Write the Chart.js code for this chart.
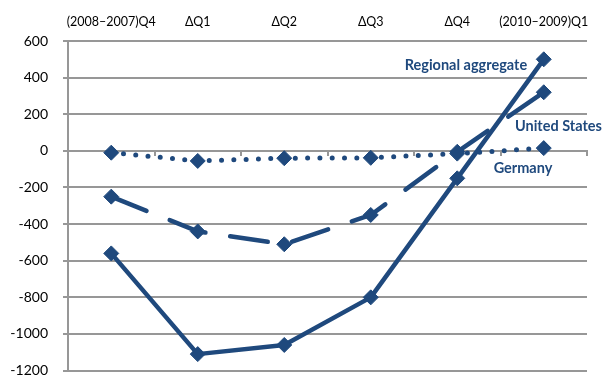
<!DOCTYPE html>
<html>
<head>
<meta charset="utf-8">
<script src="https://cdn.jsdelivr.net/npm/chart.js@4/dist/chart.umd.min.js"></script>
<style>
  html, body { margin: 0; padding: 0; background: #fff; }
  /* the frame shows 377px; the canvas runs a little taller so the plot reaches near the bottom edge */
  #wrap { width: 606px; height: 377px; overflow: hidden; }
</style>
</head>
<body>
<div id="wrap"><canvas id="c" width="606" height="394"></canvas></div>
<script>
// Period labels shown along the top
const periods = ['(2008\u20132007)Q4', '\u0394Q1', '\u0394Q2', '\u0394Q3', '\u0394Q4', '(2010\u20132009)Q1'];

// Series values
const regionalAggregate = [-560, -1110, -1060, -800, -150, 500];
const unitedStates      = [-250, -440, -510, -350, -5, 320];
const germany           = [-10, -55, -40, -38, -15, 15];

// Value axis range and step
const yMin = -1200, yMax = 600, yStep = 200;

// Series name labels placed beside the lines (category index, value)
const seriesLabels = [
  { text: 'Regional aggregate', x: 4.10, y: 469 },
  { text: 'United States',      x: 5.17, y: 136 },
  { text: 'Germany',            x: 4.76, y: -98 }
];

const BLUE = '#1f497d';
const GRID = '#979797';
const FONT = 'Lato, "Liberation Sans", sans-serif';

const seriesLabelPlugin = {
  id: 'seriesLabels',
  afterDatasetsDraw(chart) {
    const ctx = chart.ctx, xs = chart.scales.x, ys = chart.scales.y;
    ctx.save();
    ctx.font = 'bold 14.5px ' + FONT;
    ctx.fillStyle = BLUE;
    ctx.textAlign = 'center';
    ctx.textBaseline = 'middle';
    seriesLabels.forEach(l => {
      ctx.fillText(l.text, xs.getPixelForValue(l.x), ys.getPixelForValue(l.y));
    });
    ctx.restore();
  }
};

const common = {
  borderColor: BLUE,
  backgroundColor: BLUE,
  pointStyle: 'rectRot',
  pointRadius: 7.5,
  pointBorderWidth: 1,
  pointBackgroundColor: BLUE,
  pointBorderColor: BLUE,
  borderCapStyle: 'round',
  borderJoinStyle: 'round',
  tension: 0,
  fill: false
};

new Chart(document.getElementById('c'), {
  type: 'line',
  data: {
    labels: periods,
    datasets: [
      Object.assign({ label: 'Regional aggregate', data: regionalAggregate, borderWidth: 4.5 }, common),
      Object.assign({ label: 'United States', data: unitedStates, borderWidth: 4.5, borderDash: [38, 25] }, common),
      Object.assign({ label: 'Germany', data: germany, borderWidth: 5, borderDash: [0, 12.3] }, common)
    ]
  },
  options: {
    responsive: false,
    animation: false,
    layout: { padding: { top: 0, left: 0, right: 19, bottom: 0 } },
    plugins: { legend: { display: false }, tooltip: { enabled: false } },
    scales: {
      x: {
        type: 'category',
        position: 'top',
        offset: true,
        grid: { display: false, drawTicks: false },
        border: { display: false },
        ticks: { color: '#000', font: { family: FONT, size: 12.5 }, padding: 12, maxRotation: 0, autoSkip: false },
        afterFit(axis) { axis.height = 41; }
      },
      x0: {
        type: 'category',
        labels: periods,
        position: { y: 0 },
        offset: true,
        grid: { offset: true, drawOnChartArea: false, drawTicks: true, tickLength: 4, color: GRID, lineWidth: 2 },
        border: { display: true, color: GRID, width: 2 },
        ticks: { display: false },
        afterFit(axis) { axis.height = 0; }
      },
      y: {
        min: yMin,
        max: yMax,
        ticks: {
          stepSize: yStep, color: '#000', font: { family: FONT, size: 14 }, padding: 15,
          callback: v => String(v)
        },
        grid: { color: GRID, lineWidth: 2, tickLength: 5, drawTicks: true },
        border: { display: true, color: GRID, width: 2 },
        afterFit(axis) { axis.width = 68; }
      }
    }
  },
  plugins: [seriesLabelPlugin]
});
</script>
</body>
</html>
